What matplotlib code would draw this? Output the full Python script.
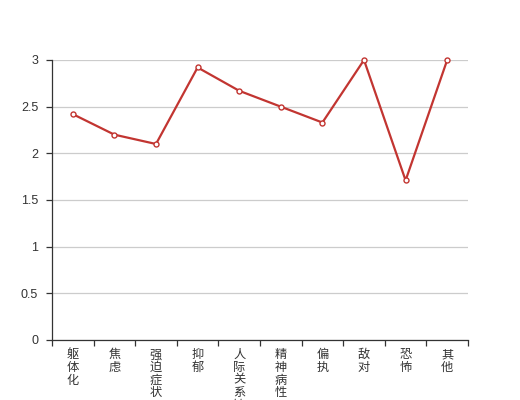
import matplotlib
matplotlib.use("Agg")
import matplotlib.pyplot as plt
from matplotlib.ticker import FixedLocator, FixedFormatter

plt.rcParams['font.family'] = ['Noto Sans CJK SC', 'DejaVu Sans']

categories = ['躯体化', '焦虑', '强迫症状', '抑郁', '人际关系敏感', '精神病性', '偏执', '敌对', '恐怖', '其他']
values = [2.42, 2.2, 2.1, 2.92, 2.67, 2.5, 2.33, 3.0, 1.71, 3.0]
yticks = [0, 0.5, 1, 1.5, 2, 2.5, 3]
ytick_labels = ['0', '0.5', '1', '1.5', '2', '2.5', '3']

fig = plt.figure(figsize=(5.2, 4.0), dpi=100)
ax = fig.add_axes([0.1, 0.15, 0.8, 0.7])

x = list(range(len(categories)))
ax.plot(x, values, color='#c23531', lw=1.6, marker='o', markersize=3.6,
        markerfacecolor='white', markeredgecolor='#c23531', markeredgewidth=1.0,
        zorder=3, clip_on=False)

ax.set_xlim(-0.5, len(categories) - 0.5)
ax.set_ylim(0, 3)

ax.yaxis.set_major_locator(FixedLocator(yticks))
ax.yaxis.set_major_formatter(FixedFormatter(ytick_labels))
ax.grid(axis='y', color='#cccccc', lw=0.9)
ax.set_axisbelow(True)

ax.set_xticks(x)
ax.set_xticklabels(['\n'.join(c) for c in categories], va='top', linespacing=0.96)
ax.set_xticks([i - 0.5 for i in range(len(categories) + 1)], minor=True)
ax.tick_params(axis='x', which='major', length=0, pad=6, labelsize=8.8, colors='#333333')
ax.tick_params(axis='x', which='minor', length=4, width=0.9, color='#333333')
ax.tick_params(axis='y', length=4, width=0.9, color='#333333', labelcolor='#333333', labelsize=9, pad=6)
for lbl in ax.get_yticklabels():
    lbl.set_family(['Liberation Sans', 'DejaVu Sans'])

for s in ['top', 'right']:
    ax.spines[s].set_visible(False)
for s in ['left', 'bottom']:
    ax.spines[s].set_color('#333333')
    ax.spines[s].set_linewidth(0.9)

fig.savefig('out.png', dpi=100)
